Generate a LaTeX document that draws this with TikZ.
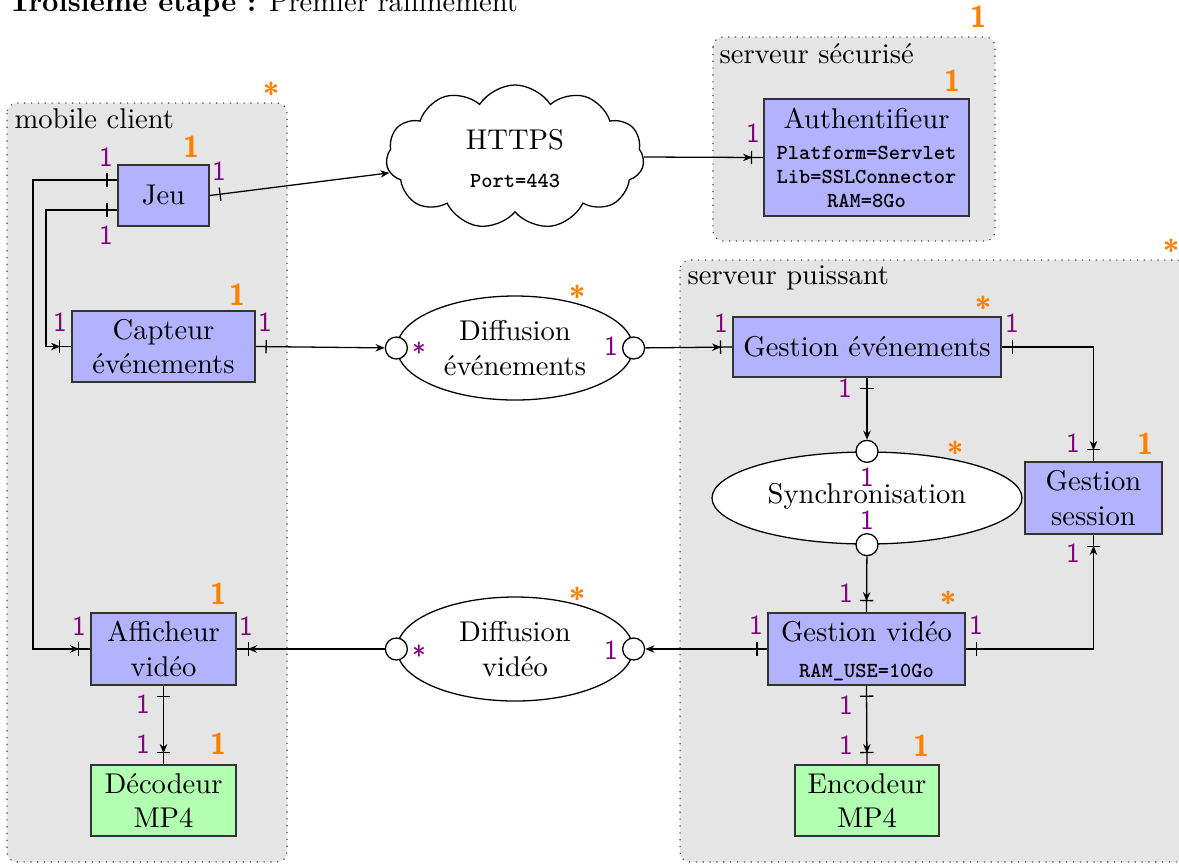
\documentclass[tikz,border=0pt]{standalone}
\usetikzlibrary{shapes.geometric,shapes.symbols,arrows.meta,decorations.markings}
\begin{document}
\begin{tikzpicture}[x=0.35pt,y=-0.35pt]
\tikzset{
 box/.style={draw=black!80, line width=0.55pt, fill=blue!30, align=center, inner sep=0pt, font=\normalsize},
 gbox/.style={box, fill=green!30},
 sz/.style 2 args={minimum width=#1*0.35pt, minimum height=#2*0.35pt},
 oval/.style={ellipse, draw, line width=0.45pt, fill=white, inner sep=0pt, align=center},
 port/.style={circle, draw, line width=0.45pt, fill=white, minimum size=7.7pt, inner sep=0pt},
 zone/.style={draw=black!75, dotted, fill=black!10, rounded corners=3.5pt},
 zonelbl/.style={anchor=base west, inner sep=0pt},
 mult/.style={text=violet, font=\sffamily\fontsize{9.6}{9.6}\selectfont, inner sep=0pt},
 mstar/.style={mult, yshift=-1.7pt},
 card/.style={text=orange, font=\sffamily\bfseries\fontsize{10.5}{10.5}\selectfont, inner sep=0pt},
 cstar/.style={card, yshift=-1.8pt},
 ttx/.style={font=\ttfamily\bfseries\fontsize{7.5}{8}\selectfont, anchor=base, inner sep=0pt},
 conn/.style={draw, line width=0.45pt},
 ah/.tip={Stealth[length=3.2pt,width=2.6pt]},
 tickS/.style={postaction={decorate,decoration={markings,mark=at position 3.85pt with {\arrow{Bar[width=4.7pt]}}}}},
 tickE/.style={postaction={decorate,decoration={markings,mark=at position -3.85pt with {\arrow{Bar[width=4.7pt]}\arrow{ah}}}}},
}
\useasboundingbox (0,0) rectangle (1179,864);

% title
\node[anchor=base west, inner sep=0pt] (title) at (8,11) {\textbf{Troisième étape :} Premier raffinement};

% zones
\path[zone] (7,103) rectangle (287,862);
\node[zonelbl] (zmcl) at (14,128) {mobile client};
\path[zone] (713,37) rectangle (995,241);
\node[zonelbl] (zsec) at (719,63) {serveur sécurisé};
\path[zone] (680,260) rectangle (1186,862);
\node[zonelbl] (zpui) at (687,284) {serveur puissant};

% boxes
\node[box, sz={91}{61}] (jeu) at (163.5,195.5) {Jeu};
\node[box, sz={183}{71}] (capt) at (163.5,346.5) {Capteur\\événements};
\node[box, sz={145}{72}] (aff) at (163.5,649) {Afficheur\\vidéo};
\node[gbox, sz={145}{71}] (dec) at (163.5,800.5) {Décodeur\\MP4};
\node[box, sz={205}{117}] (auth) at (866.5,157.5) {};
\node[anchor=base, inner sep=0pt] (authT) at (866.5,128) {Authentifieur};
\node[ttx] (authP) at (866.5,159) {Platform=Servlet};
\node[ttx] (authL) at (866.5,183) {Lib=SSLConnector};
\node[ttx] (authR) at (866.5,207) {RAM=8Go};
\node[box, sz={268}{60}] (gev) at (867,347) {Gestion événements};
\node[box, sz={137}{72}] (gses) at (1093.5,498) {Gestion\\session};
\node[box, sz={197}{72}] (gvid) at (866.5,649) {};
\node[anchor=base, inner sep=0pt] (gvidT) at (866.5,641) {Gestion vidéo};
\node[ttx] (gvidR) at (866.5,677) {RAM\_USE=10Go};
\node[gbox, sz={144}{71}] (enc) at (867,800.5) {Encodeur\\MP4};

% ellipses and ports
\node[oval, sz={236}{104}] (dev) at (515,348) {Diffusion\\événements};
\node[port] (devL) at (dev.west) {};
\node[port] (devR) at (dev.east) {};
\node[oval, sz={236}{104}] (dvid) at (515,649) {Diffusion\\vidéo};
\node[port] (dvidL) at (dvid.west) {};
\node[port] (dvidR) at (dvid.east) {};
\node[oval, sz={310}{92}] (sync) at (867,498) {};
\node[inner sep=0pt] (syncT0) at (867,496) {Synchronisation};
\node[port] (syncT) at (sync.north) {};
\node[port] (syncB) at (sync.south) {};

% cloud
\node[cloud, draw, line width=0.45pt, fill=white, cloud puffs=11, cloud puff arc=115, aspect=1.8, sz={258}{144}, inner sep=0pt] (https) at (515,157) {};
\node[inner sep=0pt] (httpsT) at (515,140) {HTTPS};
\node[ttx, anchor=center] (httpsP) at (515,181) {Port=443};

% connectors
\draw[conn, tickS, tickE] ([yshift=5.425pt]jeu.west) -| (33,400) |- (aff.west);
\draw[conn, tickS, tickE] ([yshift=-5.075pt]jeu.west) -| (46,300) |- (capt.west);
\draw[conn, tickS, -ah] (jeu.east) -- (https);
\draw[conn, tickE] (https.east) -- (auth.west);
\draw[conn, tickS, -ah] (capt.east) -- (devL);
\draw[conn, tickE] (devR) -- (gev.west);
\draw[conn, tickS, tickE] (gev.east) -| (gses.north);
\draw[conn, tickS, -ah] (gev.south) -- (syncT);
\draw[conn, tickE] (syncB) -- (gvid.north);
\draw[conn, tickS, -ah] (gvid.west) -- (dvidR);
\draw[conn, tickE] (dvidL) -- (aff.east);
\draw[conn, tickS, tickE] (gvid.east) -| (gses.south);
\draw[conn, tickS, tickE] (gvid.south) -- (enc.north);
\draw[conn, tickS, tickE] (aff.south) -- (dec.north);

% purple multiplicities
\node[mult] (m1) at (106,157) {1};
\node[mult] (m2) at (106,235) {1};
\node[mult] (m3) at (219,171) {1};
\node[mult] (m4) at (60,322) {1};
\node[mult] (m5) at (265,322) {1};
\node[mult] (m6) at (79,626) {1};
\node[mult] (m7) at (246,626) {1};
\node[mult] (m8) at (143,704) {1};
\node[mult] (m9) at (143,744) {1};
\node[mult] (m10) at (753,133) {1};
\node[mult] (m11) at (721,323) {1};
\node[mult] (m12) at (1012,323) {1};
\node[mult] (m13) at (845,388) {1};
\node[mult] (m14) at (1073,443) {1};
\node[mult] (m15) at (1073,553) {1};
\node[mult] (m16) at (867,477) {1};
\node[mult] (m17) at (867,520) {1};
\node[mult] (m18) at (846,593) {1};
\node[mult] (m19) at (756,625) {1};
\node[mult] (m20) at (976,625) {1};
\node[mult] (m21) at (846,705) {1};
\node[mult] (m22) at (846,745) {1};
\node[mult] (m23) at (611,346) {1};
\node[mult] (m24) at (611,650) {1};
\node[mstar] (m25) at (419,347) {*};
\node[mstar] (m26) at (419,650) {*};

% orange cardinalities
\node[cstar] (c1) at (271,88) {*};
\node[card] (c2) at (978,17) {1};
\node[cstar] (c3) at (1171,245) {*};
\node[card] (c4) at (191,147) {1};
\node[card] (c5) at (237,295) {1};
\node[card] (c6) at (218,594) {1};
\node[card] (c7) at (218,744) {1};
\node[card] (c8) at (952,81) {1};
\node[cstar] (c9) at (983,302) {*};
\node[cstar] (c10) at (955,447) {*};
\node[card] (c11) at (1145,444) {1};
\node[cstar] (c12) at (948,597) {*};
\node[card] (c13) at (921,746) {1};
\node[cstar] (c14) at (577,291) {*};
\node[cstar] (c15) at (577,593) {*};
\end{tikzpicture}
\end{document}
